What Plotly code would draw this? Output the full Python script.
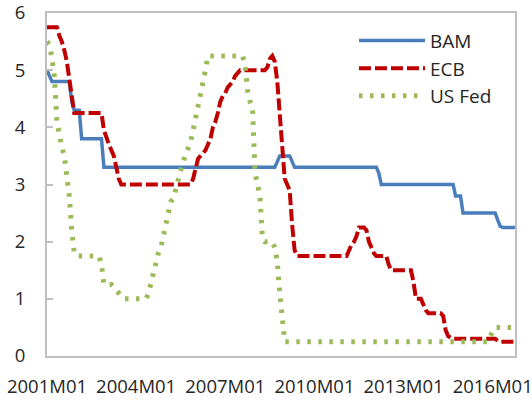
import plotly.graph_objects as go

# Monthly categories 2001M01 .. 2016M10
years = list(range(2001, 2017))
months = [f"{y}M{m:02d}" for y in years for m in range(1, 13)][:190]

tick_labels = ["2001M01", "2004M01", "2007M01", "2010M01", "2013M01", "2016M01"]

bam = (
    [5.0, 4.9, 4.8, 4.8, 4.8, 4.8, 4.8, 4.8, 4.8, 4.8, 4.45, 4.3] +          # 2001
    [4.3, 4.3, 3.8, 3.8, 3.8, 3.8, 3.8, 3.8, 3.8, 3.8, 3.8, 3.3] +           # 2002
    [3.3, 3.3, 3.3, 3.3, 3.3, 3.3, 3.3, 3.3, 3.3, 3.3, 3.3, 3.3] +           # 2003
    [3.3, 3.3, 3.3, 3.3, 3.3, 3.3, 3.3, 3.3, 3.3, 3.3, 3.3, 3.3] +           # 2004
    [3.3, 3.3, 3.3, 3.3, 3.3, 3.3, 3.3, 3.3, 3.3, 3.3, 3.3, 3.3] +           # 2005
    [3.3, 3.3, 3.3, 3.3, 3.3, 3.3, 3.3, 3.3, 3.3, 3.3, 3.3, 3.3] +           # 2006
    [3.3, 3.3, 3.3, 3.3, 3.3, 3.3, 3.3, 3.3, 3.3, 3.3, 3.3, 3.3] +           # 2007
    [3.3, 3.3, 3.3, 3.3, 3.3, 3.3, 3.3, 3.3, 3.3, 3.4, 3.5, 3.5] +           # 2008
    [3.5, 3.5, 3.5, 3.4, 3.3, 3.3, 3.3, 3.3, 3.3, 3.3, 3.3, 3.3] +           # 2009
    [3.3, 3.3, 3.3, 3.3, 3.3, 3.3, 3.3, 3.3, 3.3, 3.3, 3.3, 3.3] +           # 2010
    [3.3, 3.3, 3.3, 3.3, 3.3, 3.3, 3.3, 3.3, 3.3, 3.3, 3.3, 3.3] +           # 2011
    [3.3, 3.3, 3.2, 3.0, 3.0, 3.0, 3.0, 3.0, 3.0, 3.0, 3.0, 3.0] +           # 2012
    [3.0, 3.0, 3.0, 3.0, 3.0, 3.0, 3.0, 3.0, 3.0, 3.0, 3.0, 3.0] +           # 2013
    [3.0, 3.0, 3.0, 3.0, 3.0, 3.0, 3.0, 3.0, 3.0, 2.8, 2.8, 2.8] +           # 2014
    [2.5, 2.5, 2.5, 2.5, 2.5, 2.5, 2.5, 2.5, 2.5, 2.5, 2.5, 2.5] +           # 2015
    [2.5, 2.5, 2.38, 2.27, 2.25, 2.25, 2.25, 2.25, 2.25, 2.25]               # 2016
)

ecb = (
    [5.75, 5.75, 5.75, 5.75, 5.75, 5.6, 5.5, 5.35, 5.15, 4.85, 4.5, 4.25] +  # 2001
    [4.25, 4.25, 4.25, 4.25, 4.25, 4.25, 4.25, 4.25, 4.25, 4.25, 4.25, 3.95] +  # 2002
    [3.8, 3.7, 3.6, 3.5, 3.3, 3.1, 3.0, 3.0, 3.0, 3.0, 3.0, 3.0] +           # 2003
    [3.0, 3.0, 3.0, 3.0, 3.0, 3.0, 3.0, 3.0, 3.0, 3.0, 3.0, 3.0] +           # 2004
    [3.0, 3.0, 3.0, 3.0, 3.0, 3.0, 3.0, 3.0, 3.0, 3.0, 3.0, 3.1] +           # 2005
    [3.3, 3.45, 3.5, 3.55, 3.6, 3.7, 3.8, 4.0, 4.1, 4.25, 4.45, 4.55] +      # 2006
    [4.6, 4.7, 4.75, 4.8, 4.9, 4.95, 5.0, 5.0, 5.0, 5.0, 5.0, 5.0] +         # 2007
    [5.0, 5.0, 5.0, 5.0, 5.0, 5.05, 5.2, 5.25, 5.15, 4.8, 4.2, 3.6] +        # 2008
    [3.1, 3.0, 2.9, 2.3, 1.85, 1.75, 1.75, 1.75, 1.75, 1.75, 1.75, 1.75] +   # 2009
    [1.75, 1.75, 1.75, 1.75, 1.75, 1.75, 1.75, 1.75, 1.75, 1.75, 1.75, 1.75] +  # 2010
    [1.75, 1.75, 1.85, 1.95, 2.0, 2.1, 2.25, 2.25, 2.25, 2.2, 2.0, 1.9] +    # 2011
    [1.8, 1.75, 1.75, 1.75, 1.75, 1.75, 1.6, 1.5, 1.5, 1.5, 1.5, 1.5] +      # 2012
    [1.5, 1.5, 1.5, 1.5, 1.3, 1.0, 1.0, 1.0, 0.9, 0.8, 0.75, 0.75] +         # 2013
    [0.75, 0.75, 0.75, 0.75, 0.7, 0.45, 0.35, 0.33, 0.3, 0.3, 0.3, 0.3] +    # 2014
    [0.3, 0.3, 0.3, 0.3, 0.3, 0.3, 0.3, 0.3, 0.3, 0.3, 0.3, 0.3] +           # 2015
    [0.3, 0.3, 0.27, 0.25, 0.25, 0.25, 0.25, 0.25, 0.25, 0.25]               # 2016
)

fed = (
    [5.5, 5.45, 5.2, 4.9, 4.1, 3.8, 3.65, 3.5, 3.2, 2.8, 2.2, 1.8] +         # 2001
    [1.75, 1.75, 1.75, 1.75, 1.75, 1.75, 1.75, 1.75, 1.75, 1.75, 1.6, 1.25] +  # 2002
    [1.25, 1.25, 1.25, 1.2, 1.15, 1.1, 1.05, 1.0, 1.0, 1.0, 1.0, 1.0] +      # 2003
    [1.0, 1.0, 1.0, 1.0, 1.0, 1.1, 1.3, 1.4, 1.6, 1.8, 1.9, 2.1] +           # 2004
    [2.25, 2.45, 2.7, 2.75, 2.95, 3.1, 3.25, 3.4, 3.5, 3.6, 3.75, 3.95] +    # 2005
    [4.15, 4.3, 4.5, 4.8, 5.0, 5.25, 5.25, 5.25, 5.25, 5.25, 5.25, 5.25] +   # 2006
    [5.25, 5.25, 5.25, 5.25, 5.25, 5.25, 5.25, 5.25, 5.1, 4.65, 4.45, 4.35] +  # 2007
    [3.2, 3.0, 2.8, 2.05, 2.0, 2.0, 2.0, 2.0, 1.9, 1.65, 1.1, 0.6] +         # 2008
    [0.25, 0.25, 0.25, 0.25, 0.25, 0.25, 0.25, 0.25, 0.25, 0.25, 0.25, 0.25] +  # 2009
    [0.25, 0.25, 0.25, 0.25, 0.25, 0.25, 0.25, 0.25, 0.25, 0.25, 0.25, 0.25] +  # 2010
    [0.25, 0.25, 0.25, 0.25, 0.25, 0.25, 0.25, 0.25, 0.25, 0.25, 0.25, 0.25] +  # 2011
    [0.25, 0.25, 0.25, 0.25, 0.25, 0.25, 0.25, 0.25, 0.25, 0.25, 0.25, 0.25] +  # 2012
    [0.25, 0.25, 0.25, 0.25, 0.25, 0.25, 0.25, 0.25, 0.25, 0.25, 0.25, 0.25] +  # 2013
    [0.25, 0.25, 0.25, 0.25, 0.25, 0.25, 0.25, 0.25, 0.25, 0.25, 0.25, 0.25] +  # 2014
    [0.25, 0.25, 0.25, 0.25, 0.25, 0.25, 0.25, 0.25, 0.25, 0.25, 0.25, 0.35] +  # 2015
    [0.45, 0.5, 0.5, 0.5, 0.5, 0.5, 0.5, 0.5, 0.5, 0.5]                      # 2016
)

FONT = "Open Sans"
FSIZE = 18.5
TEXT = "#262626"
AXIS = "#bfbfbf"

fig = go.Figure()
fig.add_trace(go.Scatter(x=months, y=bam, name="BAM", mode="lines",
                         line=dict(color="#4A7EBB", width=3.5)))
fig.add_trace(go.Scatter(x=months, y=ecb, name="ECB", mode="lines",
                         line=dict(color="#C00000", width=4, dash="12px,4px")))
fig.add_trace(go.Scatter(x=months, y=fed, name="US Fed", mode="lines",
                         line=dict(color="#9BBB59", width=5, dash="3.5px,7.5px")))

fig.update_layout(
    width=532, height=402,
    margin=dict(l=47, r=17, t=13, b=46, autoexpand=False),
    paper_bgcolor="white", plot_bgcolor="white",
    font=dict(family=FONT, size=FSIZE, color=TEXT),
    showlegend=True,
    legend=dict(x=0.656, y=0.975, xanchor="left", yanchor="top",
                bgcolor="rgba(0,0,0,0)", itemwidth=66,
                font=dict(family=FONT, size=19, color=TEXT)),
)
fig.update_xaxes(
    type="category", range=[0, len(months) - 1], automargin=False,
    tickmode="array", tickvals=tick_labels, ticktext=tick_labels,
    showgrid=False, zeroline=False, ticks="",
    showline=True, mirror=True, linecolor=AXIS, linewidth=2,
    ticklabeloverflow="allow",
    tickfont=dict(family=FONT, size=FSIZE, color=TEXT), ticklabelstandoff=13,
)
fig.update_yaxes(
    range=[0, 6], tickmode="array", tickvals=[0, 1, 2, 3, 4, 5, 6], automargin=False,
    showgrid=False, zeroline=False,
    ticks="inside", ticklen=6, tickwidth=2, tickcolor=AXIS,
    showline=True, mirror=True, linecolor=AXIS, linewidth=2,
    ticklabeloverflow="allow",
    tickfont=dict(family=FONT, size=18.5, color=TEXT), ticklabelstandoff=16,
)

fig.write_html("out.html", config={"displayModeBar": False},
               post_script="document.body.style.margin='0';")
